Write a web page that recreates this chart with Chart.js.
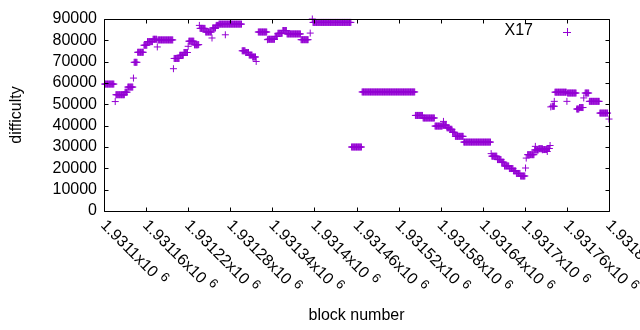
<!DOCTYPE html>
<html>
<head>
<meta charset="utf-8">
<script src="https://cdn.jsdelivr.net/npm/chart.js@4.4.1/dist/chart.umd.min.js"></script>
<style>
  body { margin: 0; background: #fff; }
  canvas { display: block; }
</style>
</head>
<body>
<canvas id="grafico" width="640" height="330"></canvas>
<script>
// Runs of consecutive blocks sharing the same difficulty (first block, last block, value)
const runFirst = [1931101, 1931117, 1931130, 1931134, 1931143, 1931148, 1931157, 1931162, 1931170, 1931177,
  1931200, 1931208, 1931214, 1931221, 1931229, 1931237, 1931245, 1931255, 1931260, 1931264,
  1931297, 1931302, 1931307, 1931312, 1931320, 1931334, 1931344, 1931348, 1931355, 1931361,
  1931381, 1931398, 1931453, 1931468, 1931544, 1931555, 1931572, 1931583, 1931589, 1931593,
  1931597, 1931601, 1931613, 1931653, 1931661, 1931667, 1931671, 1931678, 1931684, 1931688,
  1931694, 1931704, 1931714, 1931720, 1931726, 1931732, 1931739, 1931743, 1931761, 1931774,
  1931778, 1931786, 1931792, 1931807];
const runLast = [1931114, 1931129, 1931133, 1931141, 1931147, 1931156, 1931161, 1931169, 1931175, 1931198,
  1931207, 1931213, 1931219, 1931228, 1931234, 1931244, 1931253, 1931259, 1931263, 1931296,
  1931301, 1931306, 1931311, 1931316, 1931332, 1931343, 1931347, 1931354, 1931360, 1931380,
  1931391, 1931452, 1931467, 1931543, 1931554, 1931571, 1931582, 1931588, 1931592, 1931596,
  1931600, 1931612, 1931651, 1931660, 1931666, 1931670, 1931677, 1931683, 1931687, 1931693,
  1931700, 1931713, 1931719, 1931725, 1931731, 1931735, 1931742, 1931759, 1931773, 1931777,
  1931783, 1931791, 1931806, 1931818];
const runDiff = [59500, 54500, 55700, 58100, 69700, 74400, 77700, 79400, 80500, 80200,
  71500, 73000, 74300, 79600, 77900, 85600, 83900, 85800, 87000, 87600,
  75100, 74300, 73100, 72200, 83900, 80500, 81800, 83300, 84600, 83000,
  80300, 88400, 30000, 55800, 44800, 43600, 39800, 40200, 39000, 38300,
  36900, 35000, 32300, 25700, 24100, 22900, 21100, 19900, 18800, 17600,
  16400, 26400, 28600, 29200, 28800, 29300, 49100, 55700, 55300, 47800,
  48500, 55300, 51400, 45900];

// Single blocks standing apart from the runs
const pointBlock = [1931116, 1931142, 1931176, 1931199, 1931220, 1931235, 1931236, 1931254, 1931273, 1931317,
  1931333, 1931394, 1931397, 1931584, 1931652, 1931701, 1931702, 1931715, 1931725, 1931732,
  1931736, 1931737, 1931742, 1931760, 1931784, 1931820];
const pointDiff = [51300, 62300, 76900, 66700, 77200, 78000, 87000, 81100, 82600, 70100,
  80300, 83400, 90000, 42000, 26900, 20150, 24800, 30300, 28700, 27900,
  30700, 48800, 51400, 51400, 53000, 43100];

const xTickValues = [1931100, 1931160, 1931220, 1931280, 1931340, 1931400, 1931460,
  1931520, 1931580, 1931640, 1931700, 1931760, 1931820];
const xTickLabels = ['1.9311', '1.93116', '1.93122', '1.93128', '1.93134', '1.9314', '1.93146',
  '1.93152', '1.93158', '1.93164', '1.9317', '1.93176', '1.93182'];
const yTickValues = [0, 10000, 20000, 30000, 40000, 50000, 60000, 70000, 80000, 90000];

const serieNome = 'X17';
const cor = '#9400D3';
const fonte = '"Liberation Sans", Arial, sans-serif';

// monta a lista de pontos: um ponto por bloco
const pontos = [];
for (let i = 0; i < runFirst.length; i++) {
    for (let b = runFirst[i]; b <= runLast[i]; b++) {
        pontos.push({ x: b, y: runDiff[i] });
    }
}
for (let i = 0; i < pointBlock.length; i++) {
    pontos.push({ x: pointBlock[i], y: pointDiff[i] });
}

// Desenha moldura, ticks, rótulos e legenda no estilo gnuplot
const molduraPlugin = {
    id: 'moldura',
    afterDraw(chart) {
        const ctx = chart.ctx;
        const a = chart.chartArea;
        const xs = chart.scales.x;
        const ys = chart.scales.y;
        const L = Math.round(a.left) + 0.5, R = Math.round(a.right) + 0.5;
        const T = Math.round(a.top) + 0.5, B = Math.round(a.bottom) + 0.5;

        ctx.save();
        ctx.strokeStyle = '#000';
        ctx.lineWidth = 1;
        ctx.beginPath();
        ctx.rect(L, T, R - L, B - T);

        // ticks para dentro
        xTickValues.forEach(v => {
            const px = Math.round(xs.getPixelForValue(v)) + 0.5;
            ctx.moveTo(px, B); ctx.lineTo(px, B - 4);
            ctx.moveTo(px, T); ctx.lineTo(px, T + 4);
        });
        yTickValues.forEach(v => {
            const py = Math.round(ys.getPixelForValue(v)) + 0.5;
            ctx.moveTo(L, py); ctx.lineTo(L + 4, py);
            ctx.moveTo(R, py); ctx.lineTo(R - 4, py);
        });
        ctx.stroke();

        ctx.fillStyle = '#000';
        ctx.font = '16px ' + fonte;

        // rótulos do eixo y
        ctx.textAlign = 'right';
        ctx.textBaseline = 'middle';
        yTickValues.forEach(v => {
            ctx.fillText(String(v), a.left - 7, ys.getPixelForValue(v));
        });

        // rótulos do eixo x, girados 45 graus
        xTickValues.forEach((v, i) => {
            const px = xs.getPixelForValue(v);
            ctx.save();
            ctx.translate(px - 1, a.bottom + 12);
            ctx.rotate(Math.PI / 4);
            ctx.textAlign = 'left';
            ctx.textBaseline = 'middle';
            ctx.font = '16px ' + fonte;
            const txt = xTickLabels[i] + 'x10';
            ctx.fillText(txt, 0, 0);
            const w = ctx.measureText(txt).width;
            ctx.font = '13px ' + fonte;
            ctx.fillText('6', w + 5, -5);
            ctx.restore();
        });

        // títulos dos eixos
        ctx.font = '16px ' + fonte;
        ctx.textAlign = 'center';
        ctx.textBaseline = 'middle';
        ctx.fillText('block number', (a.left + a.right) / 2, 316);
        ctx.save();
        ctx.translate(17, (a.top + a.bottom) / 2);
        ctx.rotate(-Math.PI / 2);
        ctx.fillText('difficulty', 0, 0);
        ctx.restore();

        // legenda
        ctx.textAlign = 'right';
        ctx.fillText(serieNome, 533, 31);
        ctx.strokeStyle = cor;
        ctx.beginPath();
        ctx.moveTo(563, 32.5); ctx.lineTo(571, 32.5);
        ctx.moveTo(567.5, 28); ctx.lineTo(567.5, 36);
        ctx.stroke();

        ctx.restore();
    }
};

new Chart(document.getElementById('grafico').getContext('2d'), {
    type: 'scatter',
    data: {
        datasets: [{
            label: serieNome,
            data: pontos,
            pointStyle: 'cross',
            pointRadius: 3.5,
            pointHoverRadius: 3.5,
            borderWidth: 1,
            borderColor: cor,
            backgroundColor: cor,
            showLine: false,
            clip: false
        }]
    },
    options: {
        responsive: false,
        animation: false,
        devicePixelRatio: 1,
        layout: { padding: { left: 104, right: 31, top: 19, bottom: 119 } },
        plugins: { legend: { display: false }, tooltip: { enabled: false } },
        scales: {
            x: { type: 'linear', min: 1931100, max: 1931820, display: false },
            y: { min: 0, max: 90000, display: false }
        }
    },
    plugins: [molduraPlugin]
});
</script>
</body>
</html>
